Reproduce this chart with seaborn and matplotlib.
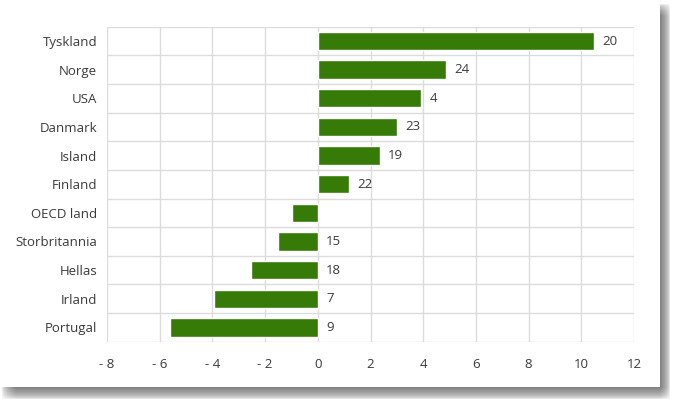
import numpy as np
import pandas as pd
import matplotlib
matplotlib.use("Agg")
import matplotlib.pyplot as plt
from matplotlib.patches import Rectangle
import seaborn as sns

countries = ["Tyskland", "Norge", "USA", "Danmark", "Island", "Finland",
             "OECD land", "Storbritannia", "Hellas", "Irland", "Portugal"]
values = [10.5, 4.85, 3.92, 3.0, 2.35, 1.18, -0.97, -1.5, -2.55, -3.93, -5.62]
ranks = ["20", "24", "4", "23", "19", "22", "", "15", "18", "7", "9"]
xticks = [-8, -6, -4, -2, 0, 2, 4, 6, 8, 10, 12]
xticklabels = ["- 8", "- 6", "- 4", "- 2", "0", "2", "4", "6", "8", "10", "12"]

df = pd.DataFrame({"country": countries, "value": values, "rank": ranks})

sns.set_theme(style="white")
plt.rcParams["font.family"] = ["Open Sans", "DejaVu Sans"]

W, H = 675, 405
fig = plt.figure(figsize=(W / 100, H / 100), dpi=100)
fig.patch.set_facecolor("white")

# background card with soft drop shadow
bg = fig.add_axes([0, 0, 1, 1], zorder=-5)
bg.set_xlim(0, W)
bg.set_ylim(H, 0)
bg.axis("off")
xx = np.arange(W) + 0.5
yy = np.arange(H) + 0.5
def ramp(t, a, b, wa, wb):
    lo = np.clip((t - a) / wa, 0, 1)
    hi = np.clip((b - t) / wb, 0, 1)
    return np.sqrt(lo * hi)
sx = ramp(xx, 2, 670, 14.0, 10.0)
sy = ramp(yy, 4, 399, 12.0, 12.0)
alpha = np.outer(sy, sx) * 0.5
img = np.zeros((H, W, 4))
img[..., 3] = alpha
bg.imshow(img, extent=(0, W, H, 0), interpolation="bilinear", zorder=0)
bg.add_patch(Rectangle((0, 0), 660, 387, facecolor="white", edgecolor="none", zorder=1))

ax = fig.add_axes([107 / W, 1 - 341.7 / H, (634 - 107) / W, (341.7 - 26.7) / H])
ax.set_facecolor("none")
sns.barplot(data=df, x="value", y="country", orient="h", color="#367a08",
            saturation=1, width=0.64, ax=ax, zorder=3)

ax.set_xlim(-8, 12)
ax.set_ylim(len(countries) - 0.5, -0.5)
ax.set_xticks(xticks)
ax.set_xticklabels(xticklabels)
ax.set_yticks(np.arange(len(countries)))
ax.set_yticklabels(countries)
ax.set_yticks(np.arange(len(countries) + 1) - 0.5, minor=True)
ax.set_xlabel("")
ax.set_ylabel("")

ax.grid(False)
ax.xaxis.grid(True, which="major", color="#dcdcdc", linewidth=1, zorder=0)
ax.yaxis.grid(True, which="minor", color="#dcdcdc", linewidth=1, zorder=0)
ax.set_axisbelow(True)
for s in ax.spines.values():
    s.set_visible(False)
ax.tick_params(axis="both", which="both", length=0, colors="#3a3a3a", labelsize=9.5)
ax.tick_params(axis="x", pad=12)
ax.tick_params(axis="y", pad=7)

for i, (v, r) in enumerate(zip(values, ranks)):
    if r:
        ax.annotate(r, xy=(max(v, 0), i), xytext=(6, 0), textcoords="offset points",
                    va="center", ha="left", fontsize=9.5, color="#3a3a3a")

fig.savefig("out.png", dpi=100, facecolor="white")
